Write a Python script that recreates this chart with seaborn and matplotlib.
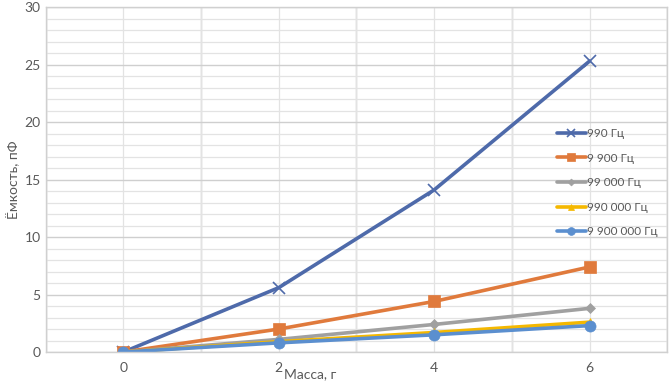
import pandas as pd
import matplotlib.pyplot as plt
from matplotlib.ticker import MultipleLocator
import seaborn as sns

# Data
mass = [0, 2, 4, 6]
cap_990 = [0, 5.6, 14.1, 25.3]
cap_9900 = [0, 2.0, 4.4, 7.4]
cap_99000 = [0, 1.1, 2.4, 3.8]
cap_990000 = [0, 0.9, 1.7, 2.6]
cap_9900000 = [0, 0.8, 1.5, 2.3]
series_names = ["990 Гц", "9 900 Гц", "99 000 Гц", "990 000 Гц", "9 900 000 Гц"]

colors = ["#4E6AAA", "#E07A3C", "#A0A0A0", "#F5B800", "#5B8FCF"]
markers = ["x", "s", "D", "^", "o"]
msizes = [8, 8, 5, 6, 8]

rows = []
for name, vals in zip(series_names, [cap_990, cap_9900, cap_99000, cap_990000, cap_9900000]):
    for m, v in zip(mass, vals):
        rows.append({"mass": m, "cap": v, "series": name})
df = pd.DataFrame(rows)

sns.set_style("white")
plt.rcParams['font.family'] = ['Lato', 'DejaVu Sans']

fig, ax = plt.subplots(figsize=(6.72, 3.89), dpi=100)
fig.subplots_adjust(left=0.068, right=0.993, top=0.982, bottom=0.095)

# grid: minor then major
ax.set_xlim(-1, 7)
ax.set_ylim(0, 30)
ax.xaxis.set_major_locator(MultipleLocator(2))
ax.xaxis.set_minor_locator(MultipleLocator(1))
ax.yaxis.set_major_locator(MultipleLocator(5))
ax.yaxis.set_minor_locator(MultipleLocator(1))
ax.grid(which='minor', color='#E3E3E3', linewidth=0.9)
ax.grid(which='major', axis='y', color='#CFCFCF', linewidth=1.0)
ax.grid(which='major', axis='x', color='#E3E3E3', linewidth=0.9)
for xv in [-1, 1, 3, 5, 7]:
    ax.axvline(xv, color='#C8C8C8', linewidth=1.0, zorder=0.5)
ax.set_axisbelow(True)

for name, c, mk, ms in zip(series_names, colors, markers, msizes):
    sub = df[df["series"] == name]
    sns.lineplot(data=sub, x="mass", y="cap", ax=ax, color=c, marker=mk,
                 markersize=ms, linewidth=2.6, label=name,
                 markeredgecolor=c, markeredgewidth=1.2 if mk == "x" else 0.5)

for s in ax.spines.values():
    s.set_color('#D0D0D0')
    s.set_linewidth(1.0)

ax.tick_params(axis='both', which='both', length=0, colors='#595959', labelsize=10)
ax.tick_params(axis='x', pad=7)
ax.set_xlabel("Масса, г", color='#595959', fontsize=10)
ax.set_ylabel("Ёмкость, пФ", color='#595959', fontsize=10, labelpad=3)
ax.xaxis.set_label_coords(0.425, -0.047)

leg = ax.legend(loc='upper left', bbox_to_anchor=(0.805, 0.68), frameon=False,
                fontsize=8.5, labelspacing=1.15, handlelength=2.5,
                handletextpad=0.05, labelcolor='#595959', markerscale=0.7)

fig.savefig("out.png", dpi=100)
